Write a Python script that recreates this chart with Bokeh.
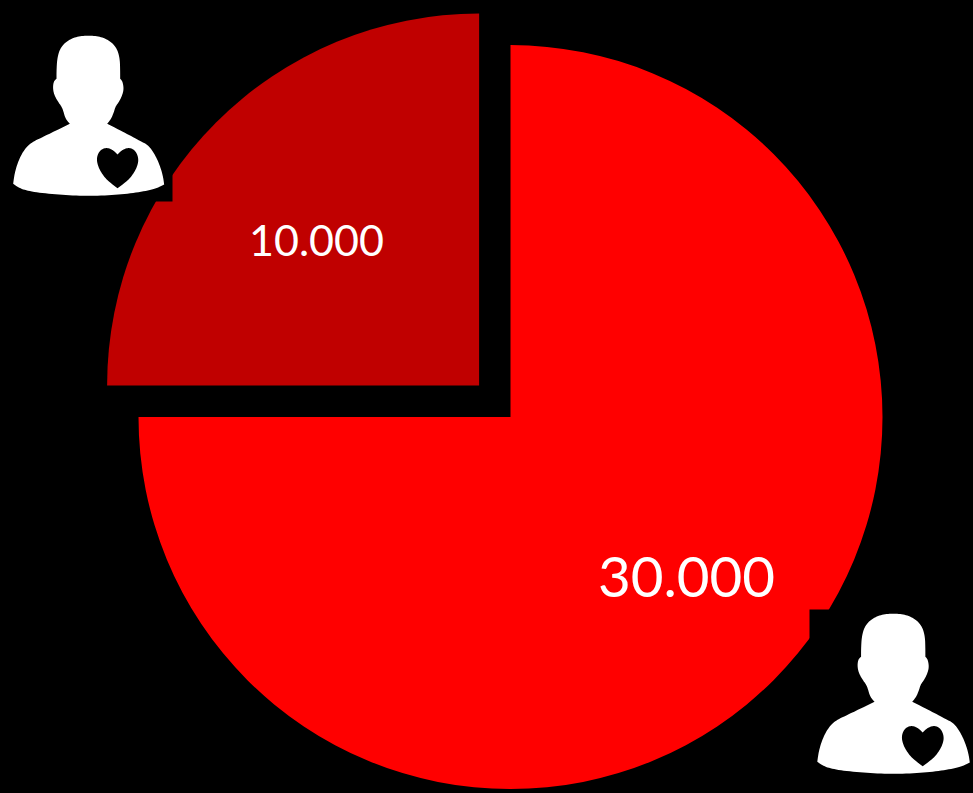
import numpy as np
from bokeh.core.properties import value
from bokeh.embed import file_html
from bokeh.models import Range1d
from bokeh.plotting import figure
from bokeh.resources import INLINE

# data
categories = ["Group A", "Group B"]
values = [10000, 30000]
labels = ["10.000", "30.000"]
colors = ["#C00000", "#FF0000"]

W, H = 973, 793
p = figure(width=W, height=H, x_range=Range1d(0, W), y_range=Range1d(0, H),
           output_backend="svg", toolbar_location=None, min_border=0,
           background_fill_color="#000000", border_fill_color="#000000")
p.axis.visible = False
p.grid.visible = False
p.outline_line_color = None

fractions = np.array(values) / sum(values)
edges = np.pi / 2 + 2 * np.pi * np.concatenate([[0], np.cumsum(fractions)])

centers_x = [478.6, 510]
centers_y = [H - 385, H - 416.6]
RADIUS = 372
for i in range(2):
    p.wedge(x=[centers_x[i]], y=[centers_y[i]], radius=RADIUS,
            start_angle=edges[i], end_angle=edges[i + 1],
            fill_color=colors[i], line_color=None)

label_x = [316, 686]
label_y = [H - 239.5, H - 576.5]
label_sizes = ["43px", "56.5px"]
for i in range(2):
    p.text(x=[label_x[i]], y=[label_y[i]], text=[labels[i]],
           text_font=value("Lato"), text_font_size=value(label_sizes[i]),
           text_color="#FFFFFF", text_align="center", text_baseline="middle")

# person icon, outline in a 3x zoom frame of the first icon
body = [(264,45),(300,48),(330,62),(350,85),(358,115),(359,150),(359,175),(366,182),(370,205),
        (365,225),(355,245),(345,258),(340,275),(332,295),(320,310),(370,335),(420,362),(445,375),
        (465,405),(480,440),(488,470),(491,492),(470,503),(420,515),(350,523),(264,527),(180,523),
        (100,515),(60,505),(38,490),(42,460),(52,425),(68,392),(90,367),(130,348),(208,310),
        (195,295),(188,270),(183,258),(170,240),(160,220),(157,200),(160,182),(168,175),(168,150),
        (170,115),(178,85),(198,62),(228,48)]
body_corners = {(320,310),(208,310),(491,492),(38,490),(359,175),(168,175)}
heart = [(351,402),(365,388),(385,381),(402,388),(412,405),(414,425),(405,450),(385,478),(351,503),
         (318,478),(298,450),(289,425),(290,405),(300,388),(318,381),(337,388)]
heart_corners = {(351,402),(351,503)}


def smooth(pts, corners, rounds=3):
    """Corner-cutting of the traced outline, keeping the sharp corners."""
    cur = [tuple(q) for q in pts]
    for _ in range(rounds):
        out = []
        n = len(cur)
        for i in range(n):
            a, b = np.array(cur[i]), np.array(cur[(i + 1) % n])
            if cur[i] in corners:
                out.append(cur[i])
            else:
                out.append(tuple(0.75 * a + 0.25 * b))
            if cur[(i + 1) % n] not in corners:
                out.append(tuple(0.25 * a + 0.75 * b))
            if cur[i] not in corners:
                pass
        cur = out
    return cur


def place(pts, ox, oy, sx):
    a = np.array(pts, float)
    return ox + a[:, 0] / 3 * sx, H - (oy + a[:, 1] / 3)


# black icon backgrounds that bite into the wedges
p.quad(left=[0, 809], right=[172, W], top=[H - 20, H - 609], bottom=[H - 201, 0],
       fill_color="#000000", line_color=None)

body_s = smooth(body, body_corners)
heart_s = smooth(heart, heart_corners)
for ox, oy, sx in [(0, 20, 1.0), (804, 598, 1.01)]:
    xs, ys = place(body_s, ox, oy, sx)
    p.patch(xs, ys, fill_color="#FFFFFF", line_color=None)
    xs, ys = place(heart_s, ox, oy, sx)
    p.patch(xs, ys, fill_color="#000000", line_color=None)

html = file_html(p, INLINE)
html = html.replace("<head>", "<head><style>html,body{margin:0;background:#000;overflow:hidden}</style>", 1)
open("out.html", "w").write(html)
